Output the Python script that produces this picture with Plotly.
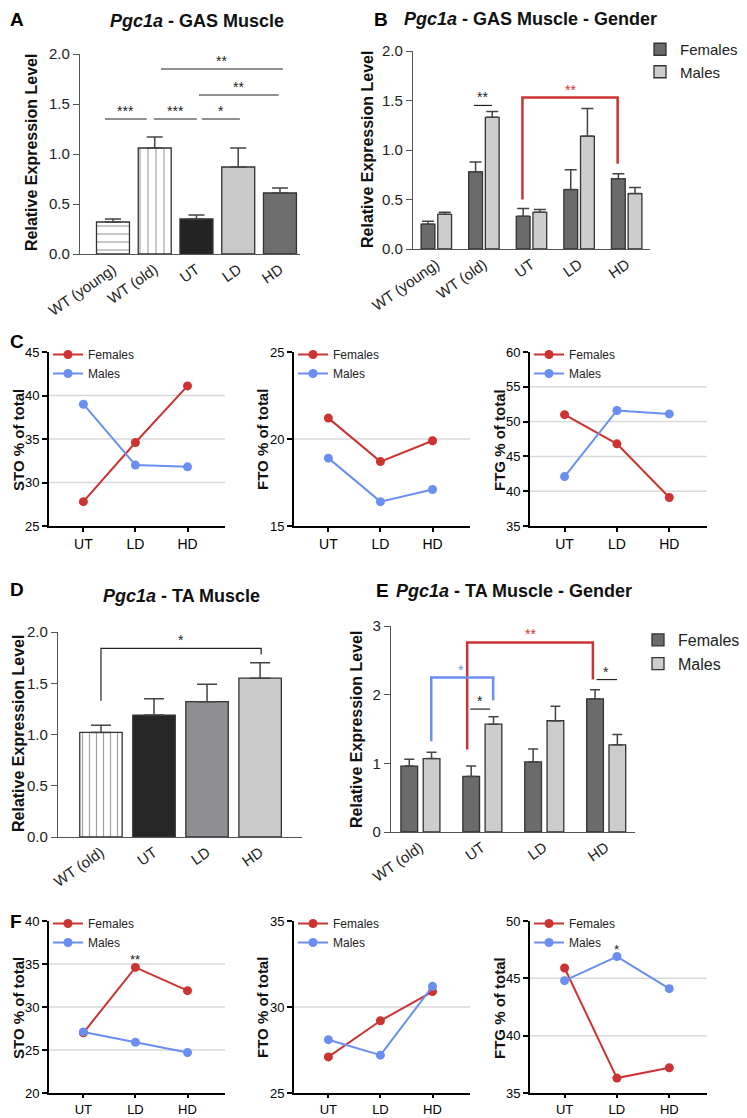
import plotly.graph_objects as go

# --- data ---
groups_gas = ["WT (young)", "WT (old)", "UT", "LD", "HD"]
gas_mean = [0.32, 1.06, 0.35, 0.87, 0.61]
gas_sem = [0.03, 0.11, 0.04, 0.19, 0.05]

gas_fem = [0.25, 0.78, 0.33, 0.60, 0.71]
gas_fem_sem = [0.03, 0.10, 0.08, 0.20, 0.05]
gas_male = [0.35, 1.33, 0.37, 1.14, 0.56]
gas_male_sem = [0.02, 0.06, 0.03, 0.28, 0.06]

fiber_groups = ["UT", "LD", "HD"]
gas_sto_f = [27.8, 34.6, 41.1]
gas_sto_m = [39.0, 32.0, 31.8]
gas_fto_f = [21.2, 18.7, 19.9]
gas_fto_m = [18.9, 16.4, 17.1]
gas_ftg_f = [51.0, 46.8, 39.1]
gas_ftg_m = [42.1, 51.6, 51.1]

groups_ta = ["WT (old)", "UT", "LD", "HD"]
ta_mean = [1.02, 1.19, 1.32, 1.55]
ta_sem = [0.07, 0.16, 0.17, 0.15]

ta_fem = [0.96, 0.81, 1.02, 1.94]
ta_fem_sem = [0.10, 0.15, 0.19, 0.13]
ta_male = [1.07, 1.57, 1.62, 1.27]
ta_male_sem = [0.09, 0.11, 0.21, 0.15]

ta_sto_f = [27.0, 34.6, 31.9]
ta_sto_m = [27.1, 25.9, 24.7]
ta_fto_f = [27.1, 29.2, 30.9]
ta_fto_m = [28.1, 27.2, 31.2]
ta_ftg_f = [45.9, 36.3, 37.2]
ta_ftg_m = [44.8, 46.9, 44.1]

# page body has an 8px margin, so the figure fills the rest of the window
PAD = 8
W, H = 747 - PAD, 1118 - PAD
FONT = "Liberation Sans, Arial, sans-serif"
RED = "#cc3333"
BLUE = "#6b8ff0"
FEM_GREY = "#6b6b6b"
MALE_GREY = "#cdcdcd"


def px(x):
    return (x - PAD) / W


def py(y):
    return 1 - (y - PAD) / H


fig = go.Figure()


def err(vals, w):
    return dict(type="data", array=vals, arrayminus=[0] * len(vals), symmetric=False,
                color="#444", thickness=1.5, width=w)


# --- A: GAS muscle ---
fig.add_trace(go.Bar(
    x=groups_gas, y=gas_mean, error_y=err(gas_sem, 8), width=0.79, offset=-0.395,
    marker=dict(color=["white", "white", "#232323", "#c9c9c9", "#6e6e6e"],
                line=dict(color="#333", width=1.3),
                pattern=dict(shape=["-", "|", "", "", ""], fgcolor="#333", size=8,
                             solidity=0.15, fillmode="overlay")),
    xaxis="x", yaxis="y", showlegend=False))

# --- B: GAS gender ---
fig.add_trace(go.Bar(x=groups_gas, y=gas_fem, error_y=err(gas_fem_sem, 6), name="Females",
                     width=0.29, offset=-0.32, marker=dict(color=FEM_GREY, line=dict(color="#333", width=1.3)),
                     xaxis="x2", yaxis="y2", legend="legend"))
fig.add_trace(go.Bar(x=groups_gas, y=gas_male, error_y=err(gas_male_sem, 6), name="Males",
                     width=0.29, offset=0.03, marker=dict(color=MALE_GREY, line=dict(color="#333", width=1.3)),
                     xaxis="x2", yaxis="y2", legend="legend"))

# --- D: TA muscle ---
fig.add_trace(go.Bar(
    x=groups_ta, y=ta_mean, error_y=err(ta_sem, 10), width=0.8, offset=-0.4,
    marker=dict(color=["white", "#262626", "#8e8e93", "#cbcbcb"],
                line=dict(color="#333", width=1.3),
                pattern=dict(shape=["|", "", "", ""], fgcolor="#333", size=7,
                             solidity=0.17, fillmode="overlay")),
    xaxis="x6", yaxis="y6", showlegend=False))

# --- E: TA gender ---
fig.add_trace(go.Bar(x=groups_ta, y=ta_fem, error_y=err(ta_fem_sem, 5), name="Females",
                     width=0.27, offset=-0.31, marker=dict(color=FEM_GREY, line=dict(color="#333", width=1.3)),
                     xaxis="x7", yaxis="y7", legend="legend2"))
fig.add_trace(go.Bar(x=groups_ta, y=ta_male, error_y=err(ta_male_sem, 5), name="Males",
                     width=0.27, offset=0.05, marker=dict(color=MALE_GREY, line=dict(color="#333", width=1.3)),
                     xaxis="x7", yaxis="y7", legend="legend2"))

# --- C / F fibre type lines ---
line_sets = [
    (3, gas_sto_f, gas_sto_m, "legend3"),
    (4, gas_fto_f, gas_fto_m, "legend4"),
    (5, gas_ftg_f, gas_ftg_m, "legend5"),
    (8, ta_sto_f, ta_sto_m, "legend6"),
    (9, ta_fto_f, ta_fto_m, "legend7"),
    (10, ta_ftg_f, ta_ftg_m, "legend8"),
]
for n, fv, mv, lg in line_sets:
    fig.add_trace(go.Scatter(x=fiber_groups, y=fv, name="Females", mode="lines+markers",
                             line=dict(color=RED, width=2), marker=dict(size=9, color=RED),
                             xaxis=f"x{n}", yaxis=f"y{n}", legend=lg, cliponaxis=False))
    fig.add_trace(go.Scatter(x=fiber_groups, y=mv, name="Males", mode="lines+markers",
                             line=dict(color=BLUE, width=2), marker=dict(size=9, color=BLUE),
                             xaxis=f"x{n}", yaxis=f"y{n}", legend=lg, cliponaxis=False))

# --- axes ---
bar_x = dict(type="category", showline=True, linecolor="#555", linewidth=1.3, ticks="",
             tickangle=-35, tickfont=dict(size=15, color="#222"), showgrid=False, zeroline=False)
bar_y = dict(showline=True, linecolor="#555", linewidth=1.3, ticks="outside", ticklen=6,
             tickcolor="#555", tickwidth=1.3, tickfont=dict(size=15, color="#222"),
             showgrid=False, zeroline=False)
line_x = dict(type="category", showline=True, linecolor="black", linewidth=2, ticks="outside",
              ticklen=4, tickwidth=1.5, tickcolor="black", tickfont=dict(size=14, color="black"),
              showgrid=False, zeroline=False)
line_y = dict(showline=True, linecolor="black", linewidth=2, ticks="outside", ticklen=5,
              tickwidth=1.5, tickcolor="black", tickfont=dict(size=13, color="black"),
              showgrid=False, zeroline=False)

layout = dict(width=W, height=H, margin=dict(l=0, r=0, t=0, b=0, autoexpand=False),
              paper_bgcolor="white", plot_bgcolor="white", font=dict(family=FONT, color="#111"),
              barmode="group")

layout["xaxis"] = dict(bar_x, domain=[px(80), px(300)], range=[-0.79, 4.48], anchor="y")
layout["yaxis"] = dict(bar_y, domain=[py(254), py(54)], range=[0, 2], dtick=0.5, tickformat=".1f", anchor="x")
layout["xaxis2"] = dict(bar_x, domain=[px(413), px(650)], range=[-0.49, 4.49], anchor="y2")
layout["yaxis2"] = dict(bar_y, domain=[py(249), py(51)], range=[0, 2], dtick=0.5, tickformat=".1f", anchor="x2")
layout["xaxis6"] = dict(bar_x, domain=[px(58), px(302)], range=[-0.81, 3.79], anchor="y6")
layout["yaxis6"] = dict(bar_y, domain=[py(837), py(632)], range=[0, 2], dtick=0.5, tickformat=".1f", anchor="x6")
layout["xaxis7"] = dict(bar_x, domain=[px(391), px(635)], range=[-0.47, 3.47], anchor="y7")
layout["yaxis7"] = dict(bar_y, domain=[py(832), py(626)], range=[0, 3], dtick=1, anchor="x7")

line_axes = [
    (3, 49, 225, 526, 352, [25, 45], 5, 4, 14),
    (4, 294, 470, 526, 352, [15, 25], 5, 4, 14),
    (5, 530, 707, 526, 352, [35, 60], 5, 4, 14),
    (8, 49, 225, 1093, 921, [20, 40], 5, 3, 13),
    (9, 294, 470, 1093, 921, [25, 35], 5, 3, 13),
    (10, 530, 707, 1093, 921, [35, 50], 5, 3, 13),
]
for n, x0, x1, yb, yt, rng, dt, tl, tf in line_axes:
    layout[f"xaxis{n}"] = dict(line_x, domain=[px(x0), px(x1)], range=[-0.66, 2.72], anchor=f"y{n}",
                               ticklen=tl, tickfont=dict(size=tf, color="black"))
    layout[f"yaxis{n}"] = dict(line_y, domain=[py(yb), py(yt)], range=rng, dtick=dt, anchor=f"x{n}")

# --- legends ---
bar_leg = dict(bgcolor="rgba(0,0,0,0)", borderwidth=0, xanchor="left", yanchor="top",
               itemclick=False, tracegroupgap=0)
layout["legend"] = dict(bar_leg, x=px(640), y=py(33), font=dict(size=15, color="#222"))
layout["legend2"] = dict(bar_leg, x=px(638), y=py(623), font=dict(size=16, color="#222"))
leg_pos = {"legend3": (48, 340), "legend4": (293, 340), "legend5": (529, 340),
           "legend6": (48, 909), "legend7": (293, 909), "legend8": (529, 909)}
for k, (lx, ly) in leg_pos.items():
    layout[k] = dict(bar_leg, x=px(lx), y=py(ly), font=dict(size=12, color="#222"))

fig.update_layout(**layout)

# --- gridlines on fibre charts ---
grids = {3: [30, 35, 40], 4: [20], 5: [40, 45, 50, 55], 8: [25, 30, 35], 9: [30], 10: [40, 45]}
for n, vals in grids.items():
    for v in vals:
        fig.add_shape(type="line", xref=f"x{n} domain", yref=f"y{n}", x0=0, x1=1, y0=v, y1=v,
                      line=dict(color="#d9d9d9", width=1.5), layer="below")


# --- significance marks ---
def hline(n, x0, x1, y, color="#222", w=1.2):
    xr = "x" if n == 1 else f"x{n}"
    yr = "y" if n == 1 else f"y{n}"
    fig.add_shape(type="line", xref=xr, yref=yr, x0=x0, x1=x1, y0=y, y1=y, line=dict(color=color, width=w))


def bracket(n, x0, x1, y, yl, yr_, color="#222", w=1.2):
    xr = "x" if n == 1 else f"x{n}"
    yr = "y" if n == 1 else f"y{n}"
    fig.add_shape(type="path", xref=xr, yref=yr,
                  path=f"M {x0} {yl} L {x0} {y} L {x1} {y} L {x1} {yr_}",
                  line=dict(color=color, width=w))


def stars(n, x, y, txt, color="#222", size=14):
    xr = "x" if n == 1 else f"x{n}"
    yr = "y" if n == 1 else f"y{n}"
    fig.add_annotation(xref=xr, yref=yr, x=x, y=y, text=txt, showarrow=False, yanchor="bottom",
                       font=dict(size=size, color=color), yshift=-2)


# A
for x0, x1, y, t in [(-0.19, 0.81, 1.35, "***"), (0.98, 2.01, 1.35, "***"), (2.13, 3.04, 1.35, "*"),
                     (2.06, 3.97, 1.59, "**"), (1.15, 4.07, 1.85, "**")]:
    hline(1, x0, x1, y)
    stars(1, (x0 + x1) / 2, y, t)
# B
hline(2, 0.79, 1.17, 1.45)
stars(2, 0.98, 1.45, "**")
bracket(2, 1.81, 3.81, 1.53, 0.50, 0.86, color=RED, w=2.5)
stars(2, 2.81, 1.53, "**", color=RED)
# D
bracket(6, 0.0, 3.02, 1.84, 1.33, 1.78, w=1.2)
stars(6, 1.51, 1.84, "*")
# E
bracket(7, 0.76, 2.79, 2.76, 1.20, 2.22, color=RED, w=2.5)
stars(7, 1.78, 2.76, "**", color=RED)
bracket(7, 0.18, 1.18, 2.25, 1.32, 1.92, color=BLUE, w=2.5)
stars(7, 0.66, 2.25, "*", color=BLUE)
hline(7, 0.81, 1.13, 1.79)
stars(7, 0.97, 1.79, "*")
hline(7, 2.85, 3.18, 2.22)
stars(7, 3.0, 2.22, "*")
# F
stars(8, "LD", ta_sto_f[1], "**", size=13)
stars(10, "LD", ta_ftg_m[1], "*", size=13)

# --- titles, labels, axis titles ---
def ann(x, y, text, size, angle=0, xa="center", ya="middle", color="#111"):
    fig.add_annotation(xref="paper", yref="paper", x=px(x), y=py(y), text=text, showarrow=False,
                       textangle=angle, xanchor=xa, yanchor=ya, font=dict(size=size, color=color))


for lbl, lx, ly in [("A", 8, 19), ("B", 372, 19), ("C", 8, 341), ("D", 8, 589), ("E", 374, 590), ("F", 8, 921)]:
    ann(lx, ly, f"<b>{lbl}</b>", 19, xa="left", color="black")

ann(197, 21, "<b><i>Pgc1a</i> - GAS Muscle</b>", 18)
ann(530, 19, "<b><i>Pgc1a</i> - GAS Muscle - Gender</b>", 18)
ann(181, 596, "<b><i>Pgc1a</i> - TA Muscle</b>", 18)
ann(514, 591, "<b><i>Pgc1a</i> - TA Muscle - Gender</b>", 18)

ann(31, 153, "<b>Relative Expression Level</b>", 16, angle=-90)
ann(367, 150, "<b>Relative Expression Level</b>", 16, angle=-90)
ann(18, 734, "<b>Relative Expression Level</b>", 16, angle=-90)
ann(356, 730, "<b>Relative Expression Level</b>", 16, angle=-90)

for x, y, t in [(18, 440, "STO % of total"), (262, 440, "FTO % of total"), (499, 440, "FTG % of total"),
                (18, 1008, "STO % of total"), (262, 1008, "FTO % of total"), (499, 1008, "FTG % of total")]:
    ann(x, y, f"<b>{t}</b>", 15, angle=-90)

fig.write_html("out.html")
